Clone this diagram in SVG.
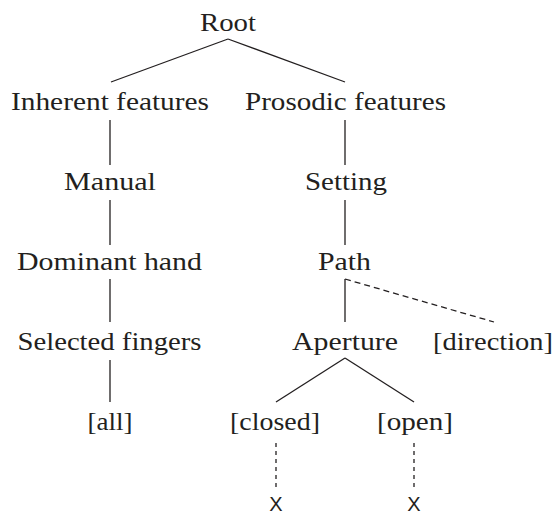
<svg xmlns="http://www.w3.org/2000/svg" width="556" height="515" viewBox="0 0 556 515">
<style>
text{font-family:"Liberation Serif","Times New Roman",serif;font-size:25px;fill:#231f20;text-anchor:middle}
.x{font-family:"Liberation Sans",Arial,sans-serif;font-size:20px}
.e line{stroke:#231f20;stroke-width:1.3;fill:none}
.e .d{stroke-dasharray:6 4}
.e .dv{stroke-dasharray:4 4}
</style>
<rect width="556" height="515" fill="#fff"/>
<g class="e" id="connectors">
<line x1="228" y1="39" x2="111" y2="82"/>
<line x1="228" y1="39" x2="345" y2="82"/>
<line x1="110" y1="120" x2="110" y2="165"/>
<line x1="110" y1="200" x2="110" y2="245"/>
<line x1="110" y1="279" x2="110" y2="322"/>
<line x1="110" y1="360" x2="110" y2="402"/>
<line x1="345" y1="120" x2="345" y2="165"/>
<line x1="345" y1="200" x2="345" y2="245"/>
<line x1="345" y1="279" x2="345" y2="322"/>
<line class="d" x1="345" y1="279" x2="494" y2="322"/>
<line x1="345" y1="358" x2="276" y2="402"/>
<line x1="345" y1="358" x2="414" y2="402"/>
<line class="dv" x1="276" y1="443" x2="276" y2="487"/>
<line class="dv" x1="414" y1="443" x2="414" y2="487"/>
</g>
<g id="root"><text x="228" y="31" textLength="56" lengthAdjust="spacingAndGlyphs">Root</text></g>
<g id="inherent"><text x="110" y="110" textLength="198" lengthAdjust="spacingAndGlyphs">Inherent features</text></g>
<g id="prosodic"><text x="345.5" y="110" textLength="201" lengthAdjust="spacingAndGlyphs">Prosodic features</text></g>
<g id="manual"><text x="110" y="190" textLength="92" lengthAdjust="spacingAndGlyphs">Manual</text></g>
<g id="setting"><text x="346" y="190" textLength="82" lengthAdjust="spacingAndGlyphs">Setting</text></g>
<g id="dominant"><text x="109.5" y="270" textLength="185" lengthAdjust="spacingAndGlyphs">Dominant hand</text></g>
<g id="path"><text x="344.5" y="270" textLength="53" lengthAdjust="spacingAndGlyphs">Path</text></g>
<g id="selected"><text x="109.5" y="350" textLength="184" lengthAdjust="spacingAndGlyphs">Selected fingers</text></g>
<g id="aperture"><text x="345" y="350" textLength="106" lengthAdjust="spacingAndGlyphs">Aperture</text></g>
<g id="direction"><text x="493" y="350" textLength="120" lengthAdjust="spacingAndGlyphs">[direction]</text></g>
<g id="all"><text x="110" y="430" textLength="45" lengthAdjust="spacingAndGlyphs">[all]</text></g>
<g id="closed"><text x="275" y="430" textLength="90" lengthAdjust="spacingAndGlyphs">[closed]</text></g>
<g id="open"><text x="415" y="430" textLength="76" lengthAdjust="spacingAndGlyphs">[open]</text></g>
<g id="x1"><text class="x" x="276" y="511">X</text></g>
<g id="x2"><text class="x" x="414" y="511">X</text></g>
</svg>
